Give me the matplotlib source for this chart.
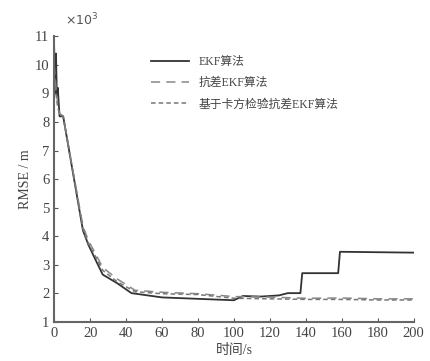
import matplotlib
matplotlib.use('Agg')
import matplotlib.pyplot as plt

plt.rcParams['font.family'] = ['Liberation Serif', 'Noto Sans CJK SC']

# EKF (solid)
t_ekf = [0, 0.5, 1, 1.5, 2, 3, 5, 16, 19, 22, 27, 35, 43, 60, 80, 100, 105, 115, 125, 130, 137, 138, 158, 159, 200]
y_ekf = [10.6, 9.0, 10.4, 8.9, 9.2, 8.2, 8.2, 4.2, 3.7, 3.3, 2.65, 2.35, 2.0, 1.85, 1.8, 1.75, 1.9, 1.88, 1.92, 2.0, 2.0, 2.7, 2.7, 3.45, 3.42]
# robust EKF (long dash)
t_rob = [0, 1, 2, 3, 5, 16, 19, 22, 27, 35, 45, 60, 80, 100, 120, 140, 160, 180, 200]
y_rob = [10.0, 9.2, 8.6, 8.3, 8.2, 4.35, 3.85, 3.5, 2.9, 2.5, 2.1, 2.03, 1.98, 1.88, 1.86, 1.82, 1.83, 1.8, 1.8]
# chi-square robust EKF (short dash)
t_chi = [0, 1, 2, 3, 5, 16, 19, 22, 27, 35, 45, 60, 80, 100, 120, 140, 160, 180, 200]
y_chi = [9.8, 9.0, 8.5, 8.3, 8.2, 4.25, 3.75, 3.4, 2.8, 2.4, 2.05, 1.98, 1.95, 1.82, 1.8, 1.78, 1.78, 1.76, 1.76]

labels = ['EKF算法', '抗差EKF算法', '基于卡方检验抗差EKF算法']
xticks = list(range(0, 201, 20))
yticks = list(range(1, 12))

fig = plt.figure(figsize=(4.3, 3.61), dpi=100)
ax = fig.add_axes([0.126, 0.109, 0.836, 0.79])

ax.plot(t_ekf, y_ekf, color='#333333', lw=1.3, label=labels[0])
ax.plot(t_rob, y_rob, color='#888888', lw=1.1, dashes=(6, 4), label=labels[1])
ax.plot(t_chi, y_chi, color='#777777', lw=1.1, dashes=(3, 2), label=labels[2])

ax.set_xlim(0, 200)
ax.set_ylim(1, 11)
ax.set_xticks(xticks)
ax.set_yticks(yticks)
ax.tick_params(direction='in', length=3, colors='#555555', labelsize=10.5, labelcolor='#444444')
for s in ['top', 'right']:
    ax.spines[s].set_visible(False)
for s in ['left', 'bottom']:
    ax.spines[s].set_color('#666666')
    ax.spines[s].set_linewidth(1.5)

ax.set_xlabel('时间/s', fontsize=10, color='#444444', labelpad=3)
ax.set_ylabel('RMSE / m', fontsize=10, color='#444444', labelpad=2)
ax.text(0.03, 1.04, r'$\times10^{3}$', transform=ax.transAxes, fontsize=9, color='#555555')

leg = ax.legend(loc='upper left', bbox_to_anchor=(0.24, 0.97), frameon=False, fontsize=8.5,
                handlelength=3.2, labelspacing=0.8, labelcolor='#444444')

plt.savefig('out.png')
